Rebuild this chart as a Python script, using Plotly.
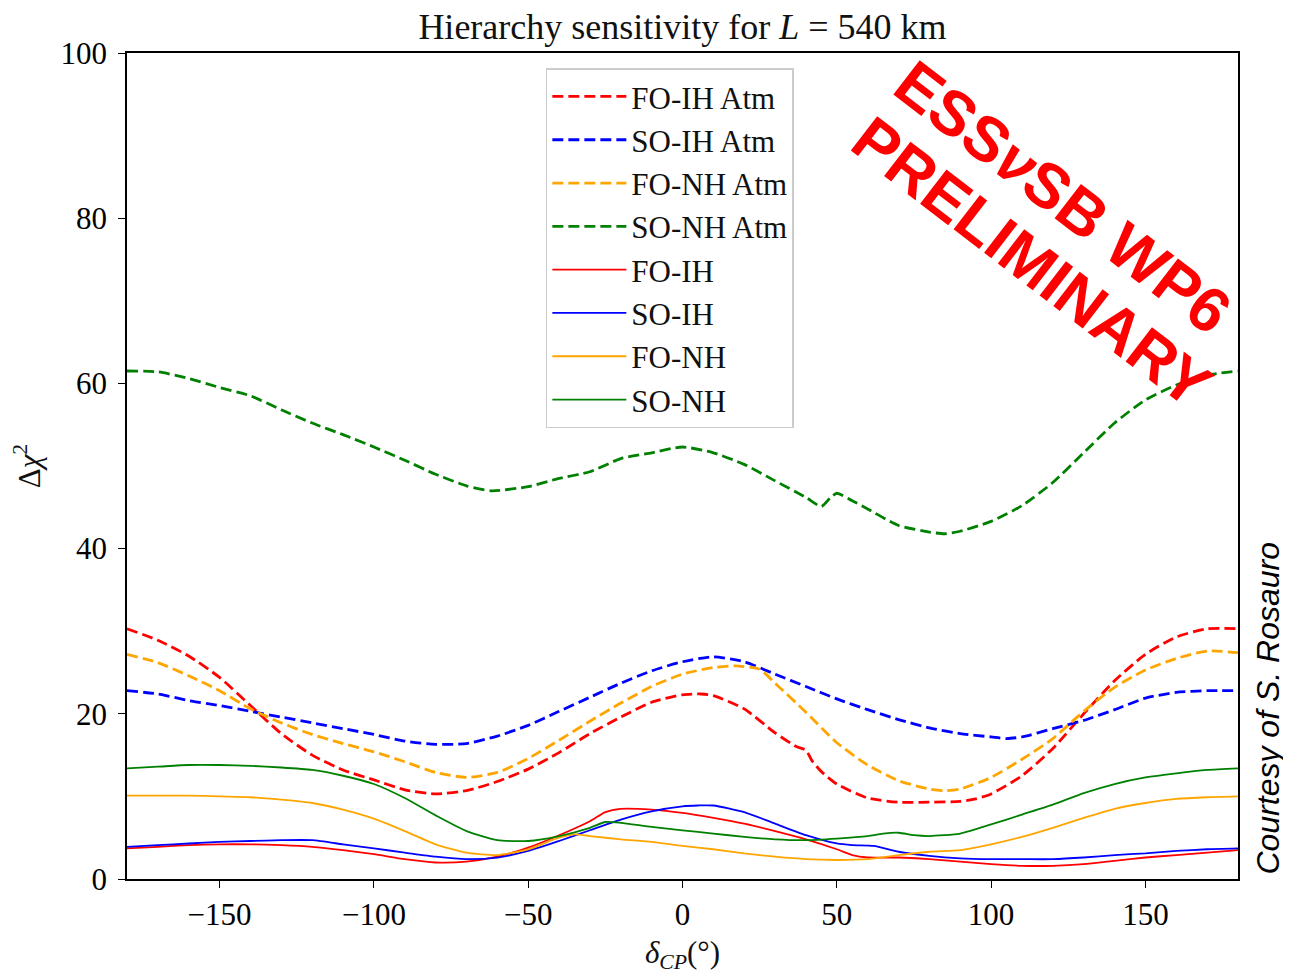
import plotly.graph_objects as go

# ---- data (delta_CP in degrees, Delta chi^2) ----
x_fo_ih_atm = [-180, -170, -160, -150, -140, -130, -120, -110, -100, -90, -80, -70, -60, -50, -40, -30, -20, -10, 0, 6, 10, 20, 30, 37, 40, 42, 45, 50, 60, 70, 80, 90, 95, 100, 110, 120, 130, 140, 150, 160, 170, 180]
y_fo_ih_atm = [30.3, 28.9, 27.0, 24.4, 21.0, 17.6, 15.0, 13.2, 12.0, 10.8, 10.3, 10.7, 11.8, 13.3, 15.3, 17.6, 19.6, 21.4, 22.3, 22.4, 22.2, 20.6, 17.7, 16.0, 15.6, 14.3, 13.0, 11.5, 9.8, 9.3, 9.3, 9.4, 9.7, 10.3, 12.5, 15.8, 20.0, 24.0, 27.2, 29.3, 30.3, 30.3]

x_so_ih_atm = [-180, -170, -160, -150, -140, -130, -120, -110, -100, -90, -80, -70, -60, -50, -40, -30, -20, -10, 0, 10, 20, 30, 40, 50, 60, 70, 80, 90, 100, 105, 110, 120, 130, 140, 150, 160, 170, 180]
y_so_ih_atm = [22.8, 22.4, 21.6, 21.0, 20.3, 19.6, 18.9, 18.2, 17.5, 16.7, 16.3, 16.4, 17.3, 18.6, 20.3, 22.0, 23.7, 25.2, 26.3, 26.9, 26.3, 24.8, 23.3, 21.8, 20.5, 19.3, 18.3, 17.6, 17.2, 17.0, 17.2, 18.2, 19.2, 20.5, 21.9, 22.6, 22.8, 22.8]

x_fo_nh_atm = [-180, -170, -160, -150, -140, -130, -120, -110, -100, -90, -80, -70, -60, -50, -40, -30, -20, -10, 0, 10, 17, 25, 30, 40, 50, 60, 70, 80, 85, 90, 100, 110, 120, 130, 140, 150, 160, 170, 180]
y_fo_nh_atm = [27.2, 26.2, 24.6, 22.8, 20.6, 18.9, 17.5, 16.4, 15.4, 14.2, 12.9, 12.3, 12.9, 14.6, 16.8, 19.1, 21.3, 23.3, 24.8, 25.6, 25.8, 25.4, 23.7, 20.2, 16.5, 13.8, 11.9, 10.9, 10.7, 10.9, 12.3, 14.5, 17.0, 20.3, 23.2, 25.3, 26.7, 27.6, 27.4]

x_so_nh_atm = [-180, -170, -160, -150, -140, -130, -120, -110, -100, -90, -80, -70, -62, -50, -40, -30, -20, -10, 0, 10, 20, 30, 40, 45, 48, 50, 55, 60, 70, 80, 85, 90, 100, 110, 120, 130, 140, 150, 160, 170, 180]
y_so_nh_atm = [61.5, 61.4, 60.6, 59.5, 58.5, 56.8, 55.2, 53.8, 52.3, 50.7, 49.0, 47.6, 47.0, 47.5, 48.5, 49.3, 50.9, 51.6, 52.3, 51.6, 50.2, 48.2, 46.2, 45.1, 46.2, 46.7, 45.8, 44.8, 42.8, 42.0, 41.8, 42.1, 43.3, 45.2, 48.0, 51.6, 55.2, 58.0, 59.8, 61.0, 61.5]

x_fo_ih = [-180, -170, -160, -150, -140, -130, -120, -110, -100, -90, -80, -70, -60, -50, -40, -30, -25, -20, -10, 0, 10, 20, 30, 40, 50, 55, 60, 70, 80, 90, 100, 110, 120, 130, 140, 150, 160, 170, 180]
y_fo_ih = [3.7, 3.9, 4.1, 4.2, 4.2, 4.1, 3.9, 3.5, 3.0, 2.4, 2.0, 2.1, 2.7, 3.8, 5.3, 7.0, 8.1, 8.5, 8.4, 8.0, 7.4, 6.7, 5.8, 4.8, 3.6, 2.9, 2.6, 2.6, 2.4, 2.1, 1.8, 1.6, 1.6, 1.8, 2.2, 2.6, 2.9, 3.2, 3.5]

x_so_ih = [-180, -170, -160, -150, -140, -130, -120, -110, -100, -90, -80, -70, -60, -50, -40, -30, -20, -10, 0, 5, 10, 20, 30, 40, 50, 55, 62, 70, 80, 90, 100, 110, 120, 130, 140, 150, 160, 170, 180]
y_so_ih = [3.9, 4.1, 4.3, 4.5, 4.6, 4.7, 4.7, 4.2, 3.7, 3.2, 2.7, 2.4, 2.6, 3.4, 4.6, 5.9, 7.2, 8.2, 8.8, 8.9, 8.9, 8.1, 6.7, 5.3, 4.3, 4.1, 4.0, 3.3, 2.8, 2.5, 2.4, 2.4, 2.4, 2.6, 2.9, 3.1, 3.4, 3.6, 3.7]

x_fo_nh = [-180, -170, -160, -150, -140, -130, -120, -110, -100, -90, -80, -70, -60, -50, -40, -35, -30, -20, -10, 0, 10, 20, 30, 40, 50, 60, 70, 80, 90, 100, 110, 120, 130, 140, 150, 160, 170, 180]
y_fo_nh = [10.1, 10.1, 10.1, 10.0, 9.9, 9.6, 9.2, 8.4, 7.3, 5.8, 4.2, 3.2, 2.9, 3.6, 5.0, 5.4, 5.2, 4.8, 4.5, 4.0, 3.6, 3.1, 2.7, 2.4, 2.3, 2.4, 2.9, 3.3, 3.5, 4.2, 5.1, 6.2, 7.4, 8.5, 9.2, 9.7, 9.9, 10.0]

x_so_nh = [-180, -170, -160, -150, -140, -130, -120, -110, -100, -90, -80, -70, -60, -50, -40, -30, -25, -20, -10, 0, 10, 20, 30, 40, 50, 60, 65, 70, 75, 80, 90, 100, 110, 120, 130, 140, 150, 160, 170, 180]
y_so_nh = [13.4, 13.6, 13.8, 13.8, 13.7, 13.5, 13.2, 12.5, 11.5, 9.8, 7.7, 5.8, 4.7, 4.6, 5.2, 6.2, 6.9, 6.8, 6.3, 5.9, 5.5, 5.1, 4.8, 4.7, 4.9, 5.2, 5.5, 5.6, 5.3, 5.2, 5.5, 6.6, 7.8, 9.0, 10.4, 11.5, 12.3, 12.8, 13.2, 13.4]

x_ticks = [-150, -100, -50, 0, 50, 100, 150]
y_ticks = [0, 20, 40, 60, 80, 100]

RED, BLUE, ORANGE, GREEN = "#ff0000", "#0000ff", "#ffa500", "#008000"
SERIF = "Liberation Serif"

series = [
    ("FO-IH Atm", x_fo_ih_atm, y_fo_ih_atm, RED, "dash"),
    ("SO-IH Atm", x_so_ih_atm, y_so_ih_atm, BLUE, "dash"),
    ("FO-NH Atm", x_fo_nh_atm, y_fo_nh_atm, ORANGE, "dash"),
    ("SO-NH Atm", x_so_nh_atm, y_so_nh_atm, GREEN, "dash"),
    ("FO-IH", x_fo_ih, y_fo_ih, RED, "solid"),
    ("SO-IH", x_so_ih, y_so_ih, BLUE, "solid"),
    ("FO-NH", x_fo_nh, y_fo_nh, ORANGE, "solid"),
    ("SO-NH", x_so_nh, y_so_nh, GREEN, "solid"),
]

fig = go.Figure()
for name, xs, ys, col, style in series:
    dashed = style == "dash"
    fig.add_trace(go.Scatter(
        x=xs, y=ys, mode="lines", name=name,
        line=dict(color=col, width=2.8 if dashed else 1.8,
                  dash="11px,5px" if dashed else "solid",
                  shape="spline", smoothing=0.6),
    ))

axis_common = dict(
    showgrid=False, zeroline=False, showline=True, linecolor="black",
    linewidth=1.5, mirror=True, ticks="outside", ticklen=7, tickwidth=1.3,
    tickcolor="black", tickfont=dict(family=SERIF, size=31, color="black"),
)

fig.update_layout(
    width=1283, height=968,
    margin=dict(l=119, r=53, t=45, b=86),
    paper_bgcolor="white", plot_bgcolor="white",
    title=dict(text="Hierarchy sensitivity for <i>L</i> = 540 km",
               x=0.5, xref="paper", xanchor="center", y=0.9814, yanchor="middle",
               font=dict(family=SERIF, size=36, color="#111111")),
    xaxis=dict(range=[-180, 180], tickvals=x_ticks,
               title=dict(text="<i>δ<sub>CP</sub></i>(°)", standoff=10,
                          font=dict(family=SERIF, size=31, color="#111111")),
               **axis_common),
    yaxis=dict(range=[0, 100], tickvals=y_ticks, ticklabelstandoff=5,
               title=dict(text="Δ<i>χ</i><sup>2</sup>", standoff=18,
                          font=dict(family=SERIF, size=31, color="#111111")),
               **axis_common),
    legend=dict(x=0.377, y=0.9815, xanchor="left", yanchor="top",
                bgcolor="rgba(255,255,255,0.9)", bordercolor="#cccccc",
                borderwidth=1.5, font=dict(family=SERIF, size=31, color="#111111"),
                itemwidth=74),
    showlegend=True,
)

wm_font = dict(family="Liberation Sans", size=63, color="#ff0000")
fig.add_annotation(x=0.8425, y=0.826, xref="paper", yref="paper",
                   text="<b>ESS<i>ν</i>SB WP6</b>", showarrow=False,
                   textangle=37.5, font=wm_font, xanchor="center", yanchor="middle")
fig.add_annotation(x=0.8146, y=0.7467, xref="paper", yref="paper",
                   text="<b>PRELIMINARY</b>", showarrow=False,
                   textangle=37.5, font=wm_font, xanchor="center", yanchor="middle")
fig.add_annotation(x=1.027, y=0.2075, xref="paper", yref="paper",
                   text="<i>Courtesy of S. Rosauro</i>", showarrow=False,
                   textangle=-90, xanchor="center", yanchor="middle",
                   font=dict(family="Liberation Sans", size=32, color="black"))

fig.write_html("out.html")
